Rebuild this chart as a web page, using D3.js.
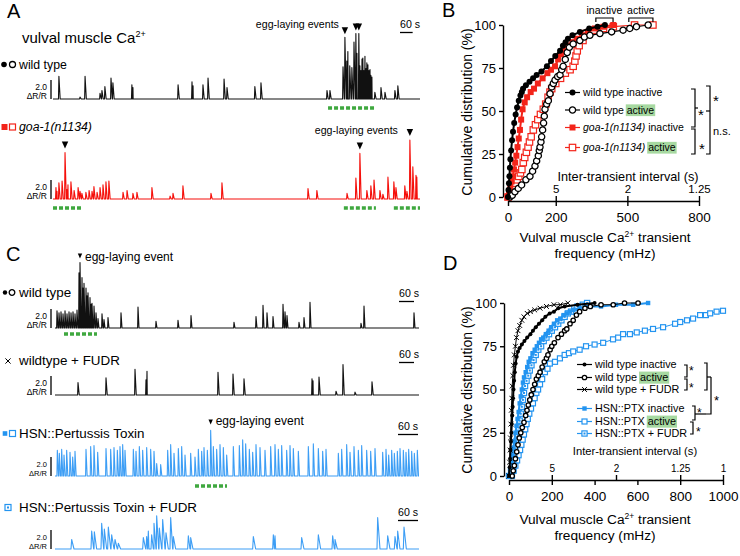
<!DOCTYPE html>
<html>
<head>
<meta charset="utf-8">
<script src="https://cdn.jsdelivr.net/npm/d3@7/dist/d3.min.js"></script>
<style>
  body { margin: 0; background: #fff; }
  svg text { font-family: "Liberation Sans", Arial, Helvetica, sans-serif; fill: #000; }
</style>
</head>
<body>
<svg id="fig" width="740" height="556"></svg>
<script>
// ---------- A / C : Ca2+ traces, each spike = [time (s), peak dR/R] ----------
var wtSpikes = [[28,2.4],[128,0.2],[152,2.4],[223,0.6],[232,0.9],[246,1.3],[275,2.2],[284,1.7],[374,1.5],[379,1.2],
  [593,1.5],[659,1.8],[664,1.4],[711,1.5],[735,2.2],[811,2.1],[825,1.2],[957,1.3],[986,1.7],[1299,0.9],[1313,0.9],
  [1375,3.4],[1384,6.5],[1393,4.0],[1398,5.0],[1407,3.5],[1417,3.3],[1427,6.0],[1436,6.9],[1441,4.8],[1450,6.9],
  [1455,3.5],[1460,3.0],[1465,4.2],[1469,4.3],[1474,3.0],[1479,4.5],[1484,3.2],[1488,3.8],[1493,3.6],[1498,3.0],
  [1503,3.1],[1507,2.5],[1512,2.3],[1526,0.7],[1555,1.2],[1574,0.7],[1621,0.9],[1635,1.4]];
var wtEggs = [1384, 1436, 1450];
var wtActive = [[1304, 1522]];

var goaSpikes = [[14,1.2],[19,0.8],[28,1.7],[43,1.9],[57,4.9],[66,1.0],[71,1.5],[85,1.8],[100,0.9],[119,1.2],
  [128,0.8],[137,0.6],[156,0.7],[171,0.9],[185,0.8],[194,1.3],[209,0.7],[223,1.2],[237,1.5],[251,1.8],[265,1.9],
  [332,0.7],[351,0.9],[379,0.6],[398,0.7],[469,1.2],[555,0.3],[569,0.6],[616,1.4],[749,0.6],[801,1.7],[1209,1.1],
  [1251,0.9],[1394,0.6],[1436,2.2],[1455,4.8],[1488,0.9],[1507,1.4],[1522,2.0],[1550,0.9],[1564,0.5],[1588,2.3],
  [1616,1.8],[1626,1.2],[1668,1.4],[1678,0.8],[1692,6.2],[1706,3.4],[1721,2.5],[1725,2.3]];
var goaEggs = [57, 1455, 1692];
var goaActive = [[0, 133], [1379, 1531], [1616, 1740]];

var cWtSpikes = [[8,1.8],[16,1.6],[24,1.7],[32,1.5],[40,1.8],[48,1.5],[56,1.7],[64,1.6],[72,1.7],[80,1.5],[88,1.9],
  [96,5.8],[100,6.9],[108,5.3],[112,4.2],[116,4.7],[124,4.2],[128,3.4],[132,3.7],[140,3.2],[144,2.5],[148,2.6],
  [156,2.3],[164,1.6],[172,1.0],[188,1.5],[196,0.9],[212,1.1],[264,1.6],[332,2.2],[404,0.7],[492,0.8],[544,1.3],
  [716,0.6],[804,1.2],[832,2.4],[848,1.6],[872,1.2],[912,2.5],[920,1.7],[928,1.3],[976,0.6],[996,1.1],[1020,2.7],
  [1224,0.5],[1236,2.3],[1436,1.6]];
var cWtEggs = [100];
var cWtActive = [[36, 168]];

var cFudrSpikes = [[92,1.3],[204,1.8],[320,2.7],[364,1.6],[368,2.5],[652,2.4],[712,2.2],[756,1.7],[1028,1.7],
  [1032,1.5],[1056,1.9],[1124,0.4],[1152,3.2],[1200,0.3],[1268,1.4]];

var ptxSpikes = [[7,2.7],[13,2.4],[20,2.8],[27,2.2],[35,2.7],[45,2.5],[53,2.0],[60,2.6],
  [93,2.8],[107,3.1],[117,3.2],[128,2.5],
  [153,2.9],[167,2.8],[177,3.0],[187,2.7],[195,3.1],[203,3.3],[210,2.7],
  [235,2.8],[243,2.6],[253,3.1],[263,2.7],[275,3.0],[287,2.8],[297,2.6],[305,1.3],[317,1.2],
  [338,2.7],[347,3.3],[357,2.4],[370,2.9],[380,3.1],[390,2.2],
  [407,2.4],[420,2.0],[430,2.8],[440,2.6],[447,3.0],[457,2.7],[467,4.8],[475,3.1],[485,2.8],[495,3.3],[505,3.0],[515,2.2],[535,3.1],
  [553,3.2],[563,3.8],[572,3.4],[583,2.8],[593,2.5],[603,3.3],[615,3.0],[630,2.7],
  [647,3.1],[660,3.3],[670,2.8],[680,3.2],[695,2.7],[705,3.2],[715,2.9],[730,2.6],
  [760,3.1],[775,3.4],[790,2.9],[803,2.6],[813,2.8],
  [850,2.4],[860,2.8],[875,3.3],[885,2.5],[897,3.1],[910,2.7],[920,3.2],[935,2.7],[947,2.6],[960,2.9],
  [983,2.5],[993,2.8],[1001,2.2],[1010,2.7],[1018,2.4],[1027,2.6],[1035,2.9],[1045,2.7],[1053,2.5],[1061,2.8],
  [1070,2.6],[1078,2.4],[1087,2.7]];
var ptxEggs = [467];
var ptxActive = [[420, 516]];

var ptxFudrSpikes = [[50,1.0],[110,1.9],[118,1.8],[140,2.7],[148,2.1],[160,2.3],[170,1.5],[180,1.0],[190,0.6],
  [265,1.2],[275,1.3],[280,1.9],[290,1.5],[297,2.7],[305,3.5],[313,2.2],[323,3.1],[333,1.7],[347,3.3],[355,1.3],
  [400,1.4],[407,1.2],[595,1.3],[655,1.5],[660,1.4],[740,1.2],[790,1.5],[833,1.4],[840,1.0],[968,3.3],[998,1.4],
  [1020,1.3],[1028,1.9],[1047,2.3]];

// ---------- B : cumulative distributions, [frequency (mHz), %] ----------
var bWtInactive = [[0,0],[2,4],[4,8],[6,12],[8,17],[10,22],[13,27],[17,33],[21,38],[26,43],[32,48],[38,52],[45,56],
  [52,59],[58,61],[63,63],[75,65],[90,67],[105,69],[120,71],[140,73],[163,76],[180,79],[198,82],[218,85],[230,88],
  [241,90],[251,92],[270,94],[301,96],[340,98],[375,99],[406,100]];
var bWtActive = [[8,0],[18,1],[29,3],[43,5],[57,7],[75,10],[92,12],[103,15],[113,18],[120,21],[127,24],[131,27],
  [134,29],[138,32],[141,35],[145,39],[149,43],[152,47],[155,51],[162,54],[169,56],[176,60],[183,64],[190,66],
  [197,68],[208,70],[218,71],[225,74],[231,76],[240,80],[248,84],[257,87],[273,89],[301,91],[320,93],[343,94],
  [385,95],[434,96],[482,97],[510,98],[538,99],[587,100]];
var bGoaInactive = [[0,0],[5,3],[10,6],[15,9],[20,12],[25,16],[30,20],[35,24],[40,29],[45,34],[50,39],[55,45],
  [61,51],[70,55],[80,58],[95,61],[109,63],[125,66],[145,69],[165,72],[180,74],[197,76],[210,80],[222,83],[231,85],
  [250,88],[270,90],[287,92],[310,94],[335,96],[364,98],[400,99],[441,100]];
var bGoaActive = [[0,0],[8,2],[15,4],[23,6],[30,8],[38,10],[45,12],[52,14],[58,16],[64,20],[70,23],[77,26],[84,29],
  [90,32],[97,35],[106,39],[115,42],[125,45],[136,48],[148,51],[158,54],[168,58],[176,61],[183,63],[200,66],
  [220,69],[240,72],[260,74],[273,76],[280,79],[285,82],[290,85],[298,88],[314,91],[327,95],[360,97],[400,98],
  [441,99],[530,100],[607,100]];
var bFreqTicks = [0, 200, 500, 800];
var bIntervalTicks = [5, 2, 1.25];
var bTopBrackets = [["inactive", 368, 440], ["active", 506, 607]];

// ---------- D : cumulative distributions, [frequency (mHz), %] ----------
var dWtInactive = [[0,0],[3,5],[5,10],[7,15],[9,20],[11,25],[13,30],[15,35],[17,40],[19,45],[21,50],[24,55],[27,60],
  [31,65],[36,69],[42,72],[50,74],[60,76],[72,78],[85,80],[100,82],[112,84],[125,86],[140,88],[155,90],[170,92],
  [190,94],[210,95],[230,97],[260,98],[320,99],[400,100]];
var dWtActive = [[15,0],[20,3],[25,6],[30,10],[36,14],[42,18],[48,22],[55,25],[62,28],[70,31],[78,35],[84,38],
  [90,41],[97,44],[104,47],[112,50],[120,53],[128,56],[137,58],[145,60],[155,63],[165,66],[175,68],[182,70],
  [192,73],[200,75],[212,77],[229,80],[245,82],[260,84],[270,85],[285,88],[300,90],[315,93],[330,95],[355,97],
  [380,98],[430,99],[487,99],[540,100],[603,100]];
var dWtFudr = [[0,0],[3,8],[5,15],[7,22],[9,30],[11,38],[13,45],[15,52],[18,58],[21,64],[25,70],[30,75],[35,80],
  [42,84],[50,87],[60,90],[70,92],[85,94],[100,95],[120,96],[145,97],[175,98],[210,99],[240,99],[275,100]];
var dPtxInactive = [[0,0],[5,4],[10,8],[15,12],[20,16],[25,20],[30,25],[35,29],[40,33],[45,37],[50,42],[55,46],
  [60,50],[65,54],[70,57],[78,60],[85,63],[92,66],[100,68],[110,71],[120,73],[130,75],[140,77],[150,79],[160,80],
  [172,82],[185,84],[197,86],[210,88],[225,90],[240,91],[255,93],[270,94],[285,95],[300,96],[330,97],[380,98],
  [430,98],[500,99],[580,99],[650,100]];
var dPtxActive = [[14,0],[22,3],[30,6],[38,9],[45,12],[52,15],[58,18],[64,21],[70,24],[76,27],[82,30],[88,33],
  [95,36],[103,39],[112,42],[120,45],[128,48],[136,50],[145,53],[155,56],[168,60],[180,62],[191,65],[215,66],
  [238,68],[260,70],[280,71],[300,72],[330,73],[360,75],[400,76],[440,77],[486,79],[510,80],[533,82],[565,82],
  [597,83],[635,84],[673,85],[720,86],[776,88],[800,89],[832,90],[860,91],[893,93],[920,93],[940,94],[970,95],
  [1000,95.5]];
var dPtxFudr = [[0,0],[10,3],[15,5],[20,8],[25,12],[30,16],[35,20],[40,24],[45,28],[50,32],[55,36],[60,40],[65,44],
  [70,48],[75,52],[82,55],[90,58],[97,61],[105,64],[115,67],[125,70],[137,73],[150,75],[162,78],[175,80],[187,82],
  [200,84],[215,86],[230,88],[245,90],[260,92],[275,94],[290,95],[305,97],[320,98],[345,99],[365,100]];
var dFreqTicks = [0, 200, 400, 600, 800, 1000];
var dIntervalTicks = [5, 2, 1.25, 1];

var pctTicks = [0, 25, 50, 75, 100];

// ------------------------------------------------------------------
var svg = d3.select('#fig');
var RED = '#f3241a', BLUE = '#2394f0', BLUE_TR = '#3d9ef5', GREEN = '#3fa83f', HL = '#a7d9a1';
var UNIT = 9.5;   // px per 1.0 dR/R

function label(x, y, size, str, anchor) {
  return svg.append('text').attr('x', x).attr('y', y).attr('font-size', size)
    .attr('text-anchor', anchor || 'start').text(str);
}

// marker glyphs
function mark(g, type, pts, color, r) {
  var gs = g.append('g').selectAll('g').data(pts).join('g')
    .attr('transform', function (d) { return 'translate(' + d[0] + ',' + d[1] + ')'; });
  if (type == 'dot') {
    gs.append('circle').attr('r', r).attr('fill', color);
  } else if (type == 'ring') {
    gs.append('circle').attr('r', r).attr('fill', '#fff').attr('stroke', color).attr('stroke-width', 1.3);
  } else if (type == 'sq') {
    gs.append('rect').attr('x', -r).attr('y', -r).attr('width', 2 * r).attr('height', 2 * r).attr('fill', color);
  } else if (type == 'osq' || type == 'dsq') {
    gs.append('rect').attr('x', -r).attr('y', -r).attr('width', 2 * r).attr('height', 2 * r)
      .attr('fill', '#fff').attr('stroke', color).attr('stroke-width', 1.2);
    if (type == 'dsq') gs.append('rect').attr('x', -1).attr('y', -1).attr('width', 2).attr('height', 2).attr('fill', color);
  } else if (type == 'x') {
    gs.append('path').attr('d', 'M' + (-r) + ',' + (-r) + 'L' + r + ',' + r + 'M' + (-r) + ',' + r + 'L' + r + ',' + (-r))
      .attr('stroke', color).attr('stroke-width', 1);
  }
}

// one Ca2+ trace
function drawTrace(c) {
  var x = d3.scaleLinear().domain([0, c.dur]).range([c.x0, c.x1]);
  var y = d3.scaleLinear().domain([0, 1]).range([c.base, c.base - UNIT]);
  var pts = [[0, 0], [c.dur, 0]];
  c.spikes.forEach(function (s) {
    pts.push([Math.max(0, s[0] - c.rise), 0], [s[0], s[1]], [Math.min(c.dur, s[0] + c.fall), 0]);
  });
  pts.sort(function (a, b) { return a[0] - b[0]; });
  svg.append('path')
    .attr('d', d3.line().x(function (d) { return x(d[0]); }).y(function (d) { return y(d[1]); })(pts))
    .attr('fill', 'none').attr('stroke', c.color).attr('stroke-width', 1.1).attr('stroke-linejoin', 'round');

  // 2.0 dR/R bar
  svg.append('line').attr('x1', 51).attr('x2', 51).attr('y1', y(0)).attr('y2', y(2))
    .attr('stroke', '#000').attr('stroke-width', 1.3);
  label(47, c.base - 9.5, c.barFont, '2.0', 'end');
  label(47, c.base, c.barFont, '\u0394R/R', 'end');

  // 60 s bar
  if (c.sixty) {
    label(c.sixty[0], c.sixty[1], c.sixtyFont, '60 s');
    svg.append('line').attr('x1', c.sixty[0]).attr('x2', c.sixty[0] + x(60) - x(0))
      .attr('y1', c.sixty[1] + 4.5).attr('y2', c.sixty[1] + 4.5).attr('stroke', '#000').attr('stroke-width', 1.3);
  }

  // active phases
  (c.active || []).forEach(function (a) {
    svg.append('line').attr('x1', x(a[0])).attr('x2', x(a[1]))
      .attr('y1', c.base + c.dashOff).attr('y2', c.base + c.dashOff)
      .attr('stroke', GREEN).attr('stroke-width', 3.5).attr('stroke-dasharray', '4,2');
  });

  // egg-laying arrowheads
  var tips = [];
  (c.eggs || []).forEach(function (t) {
    var amp = c.spikes.filter(function (s) { return s[0] === t; })[0][1];
    var cx = x(t), bot = y(amp) - c.gap, w = c.tri[0], h = c.tri[1];
    svg.append('path').attr('d', 'M' + (cx - w) + ',' + (bot - h) + 'L' + (cx + w) + ',' + (bot - h) + 'L' + cx + ',' + bot + 'Z')
      .attr('fill', '#000');
    tips.push([cx, bot]);
  });
  return { x: x, y: y, tips: tips };
}

// ----------------- panel A -----------------
label(7, 18, 20, 'A');
var vm = svg.append('text').attr('x', 22).attr('y', 43).attr('font-size', 15);
vm.append('tspan').text('vulval muscle Ca');
vm.append('tspan').attr('font-size', 9).attr('dy', -6).text('2+');

mark(svg, 'dot', [[4, 64.5]], '#000', 2.8);
mark(svg, 'ring', [[12.5, 64.5]], '#000', 3);
label(19, 68.5, 12.3, 'wild type');

var a1 = drawTrace({ x0: 53, x1: 420, dur: 1740, base: 99, color: '#111', spikes: wtSpikes, rise: 2, fall: 6,
  eggs: wtEggs, active: wtActive, dashOff: 9, gap: 3, tri: [3.2, 7], sixty: [400, 28], sixtyFont: 10.6, barFont: 8.5 });
label(a1.tips[0][0] - 6, 28, 10.6, 'egg-laying events', 'end');

mark(svg, 'sq', [[4.5, 127]], RED, 3);
mark(svg, 'osq', [[12.5, 127]], RED, 3);
label(19, 131, 12.3, 'goa-1(n1134)').attr('font-style', 'italic');

var a2 = drawTrace({ x0: 53, x1: 420, dur: 1740, base: 199, color: '#f50f0a', spikes: goaSpikes, rise: 2, fall: 6,
  eggs: goaEggs, active: goaActive, dashOff: 9, gap: 4, tri: [3.2, 7], barFont: 8.5 });
label(a2.tips[2][0] - 12, 134, 10.6, 'egg-laying events', 'end');

// ----------------- panel C -----------------
label(6, 261, 20, 'C');

mark(svg, 'dot', [[5, 292.5]], '#000', 2.2);
mark(svg, 'ring', [[12, 292.5]], '#000', 2.8);
label(19, 297, 13.4, 'wild type');
var c1 = drawTrace({ x0: 55, x1: 419, dur: 1456, base: 328, color: '#111', spikes: cWtSpikes, rise: 1.5, fall: 4,
  eggs: cWtEggs, active: cWtActive, dashOff: 6, gap: 4, tri: [2.2, 5], sixty: [399, 297], sixtyFont: 10.6, barFont: 8.5 });
label(c1.tips[0][0] + 5, c1.tips[0][1] + 3, 12, 'egg-laying event');

mark(svg, 'x', [[8, 361]], '#000', 2.6);
label(19, 365, 13.4, 'wildtype + FUDR');
drawTrace({ x0: 55, x1: 419, dur: 1456, base: 395, color: '#111', spikes: cFudrSpikes, rise: 1.5, fall: 5,
  sixty: [399, 358], sixtyFont: 10.6, barFont: 8.5 });

mark(svg, 'sq', [[5, 433.5]], BLUE, 2.3);
mark(svg, 'osq', [[12.5, 433.5]], BLUE, 3);
label(19, 438, 13.4, 'HSN::Pertussis Toxin');
var c3 = drawTrace({ x0: 55, x1: 419, dur: 1092, base: 476, color: BLUE_TR, spikes: ptxSpikes, rise: 1.2, fall: 3.5,
  eggs: ptxEggs, active: ptxActive, dashOff: 10, gap: 6, tri: [2.2, 5], sixty: [398, 430], sixtyFont: 10.6, barFont: 7.5 });
label(c3.tips[0][0] + 5, c3.tips[0][1] + 1, 12, 'egg-laying event');

mark(svg, 'dsq', [[8, 507.5]], BLUE, 3);
label(19, 512, 13.4, 'HSN::Pertussis Toxin + FUDR');
drawTrace({ x0: 55, x1: 419, dur: 1092, base: 549, color: BLUE_TR, spikes: ptxFudrSpikes, rise: 2, fall: 7,
  sixty: [398, 516], sixtyFont: 10.6, barFont: 7.5 });

// ----------------- CDF panels -----------------
function legendRow(g, x, y, parts, size) {
  var hl = g.append('g');
  var t = g.append('text').attr('x', x).attr('y', y).attr('font-size', size).style('white-space', 'pre');
  parts.forEach(function (p) {
    var ts = t.append('tspan').text(p[0]);
    if (p[1] == 'i') ts.attr('font-style', 'italic');
  });
  var node = t.node(), idx = 0;
  parts.forEach(function (p) {
    if (p[1] == 'h') {
      var a = node.getStartPositionOfChar(idx).x, b = node.getEndPositionOfChar(idx + p[0].length - 1).x;
      hl.append('rect').attr('x', a - 1).attr('y', y - size * 0.9).attr('width', b - a + 2)
        .attr('height', size * 1.12).attr('fill', HL);
    }
    idx += p[0].length;
  });
}

function bracket(x, y1, y2, w) {
  svg.append('path').attr('d', 'M' + (x - w) + ',' + y1 + 'H' + x + 'V' + y2 + 'H' + (x - w))
    .attr('fill', 'none').attr('stroke', '#000').attr('stroke-width', 1.2);
}
function tick(x1, x2, y) {
  svg.append('line').attr('x1', x1).attr('x2', x2).attr('y1', y).attr('y2', y).attr('stroke', '#000').attr('stroke-width', 1.2);
}
function star(x, cy, size) { size = size || 15; label(x, cy + size * 0.57, size, '*'); }

function cdfPanel(p) {
  var x = d3.scaleLinear().domain([0, p.xMax]).range(p.xr);
  var y = d3.scaleLinear().domain([0, 100]).range(p.yr);
  var gy = svg.append('g').attr('transform', 'translate(' + p.yAxisX + ',0)')
    .call(d3.axisLeft(y).tickValues(pctTicks).tickSize(4).tickSizeOuter(0).tickPadding(3));
  var gx = svg.append('g').attr('transform', 'translate(0,' + p.xAxisY + ')')
    .call(d3.axisBottom(x).tickValues(p.freqTicks).tickFormat(d3.format('d')).tickSize(5).tickSizeOuter(0).tickPadding(6));
  var gt = svg.append('g').attr('transform', 'translate(0,' + p.xAxisY + ')')
    .call(d3.axisTop(x).tickValues(p.intervalTicks.map(function (s) { return 1000 / s; }))
      .tickFormat(function (d) { return String(+(1000 / d).toFixed(2)); }).tickSize(5).tickPadding(3));
  gt.select('.domain').remove();
  [gy, gx, gt].forEach(function (g) {
    g.selectAll('path, line').attr('stroke', '#000').attr('stroke-width', 1.4);
  });
  gy.selectAll('text').attr('font-size', 13);
  gx.selectAll('text').attr('font-size', 13.5);
  gt.selectAll('text').attr('font-size', p.topFont);

  label(p.intervalTitle[0], p.intervalTitle[1], p.topTitleFont, 'Inter-transient interval (s)', 'middle');
  svg.append('text').attr('transform', 'translate(472,' + p.yTitleY + ') rotate(-90)')
    .attr('text-anchor', 'middle').attr('font-size', 14).text('Cumulative distribution (%)');
  var xt = svg.append('text').attr('x', 605).attr('y', p.xTitleY).attr('font-size', 13.7).attr('text-anchor', 'middle');
  xt.append('tspan').text('Vulval muscle Ca');
  xt.append('tspan').attr('font-size', 8.5).attr('dy', -5).text('2+');
  xt.append('tspan').attr('dy', 5).text(' transient');
  label(605, p.xTitleY + 16, 13.7, 'frequency (mHz)', 'middle');

  var g = svg.append('g');
  var line = d3.line().x(function (d) { return x(d[0]); }).y(function (d) { return y(d[1]); });
  p.series.forEach(function (s) {
    g.append('path').attr('d', line(s.data)).attr('fill', 'none').attr('stroke', s.color).attr('stroke-width', s.lw);
    mark(g, s.mark, s.data.map(function (d) { return [x(d[0]), y(d[1])]; }), s.color, s.r);
  });

  // legend
  var lg = svg.append('g');
  p.legend.forEach(function (row, i) {
    var s = p.series.filter(function (q) { return q.key == row.key; })[0];
    var cy = p.legendY[i];
    lg.append('line').attr('x1', p.legendX[0]).attr('x2', p.legendX[1]).attr('y1', cy).attr('y2', cy)
      .attr('stroke', s.color).attr('stroke-width', 1.2);
    mark(lg, s.mark, [[(p.legendX[0] + p.legendX[1]) / 2, cy]], s.color, s.r);
    legendRow(lg, p.legendX[1] + 3, cy + 3.8, row.parts, p.legendFont);
  });
  return { x: x, y: y };
}

// ----------------- panel B -----------------
label(442, 17, 20, 'B');
var B = cdfPanel({
  xMax: 800, xr: [508, 699], yr: [197, 25], yAxisX: 503, xAxisY: 201,
  freqTicks: bFreqTicks, intervalTicks: bIntervalTicks, topFont: 11.5,
  intervalTitle: [628, 181], topTitleFont: 12.7, yTitleY: 112, xTitleY: 242,
  series: [
    { key: 'ga', data: bGoaActive, color: RED, mark: 'osq', r: 3.2, lw: 1.2 },
    { key: 'gi', data: bGoaInactive, color: RED, mark: 'sq', r: 3, lw: 2 },
    { key: 'wa', data: bWtActive, color: '#000', mark: 'ring', r: 3.1, lw: 1.2 },
    { key: 'wi', data: bWtInactive, color: '#000', mark: 'dot', r: 3, lw: 2 }
  ],
  legend: [
    { key: 'wi', parts: [['wild type inactive', '']] },
    { key: 'wa', parts: [['wild type ', ''], ['active', 'h']] },
    { key: 'gi', parts: [['goa-1(n1134)', 'i'], [' inactive', '']] },
    { key: 'ga', parts: [['goa-1(n1134)', 'i'], [' ', ''], ['active', 'h']] }
  ],
  legendY: [92.5, 110, 127.5, 147.5], legendX: [565, 580], legendFont: 10.5
});
bTopBrackets.forEach(function (b) {
  var x1 = B.x(b[1]), x2 = B.x(b[2]);
  svg.append('path').attr('d', 'M' + x1 + ',22V18H' + x2 + 'V22').attr('fill', 'none')
    .attr('stroke', '#000').attr('stroke-width', 1.2);
  label((x1 + x2) / 2, 14, 10.6, b[0], 'middle');
});
bracket(695, 89, 127, 4); tick(695, 698, 108); star(698, 111);
bracket(695, 129, 154, 4); star(699, 145);
bracket(710, 86, 154, 4); tick(706, 710, 111); star(713, 97);
label(713, 135, 11, 'n.s.');

// ----------------- panel D -----------------
label(443, 270, 20, 'D');
cdfPanel({
  xMax: 1000, xr: [509, 723], yr: [476, 303], yAxisX: 504, xAxisY: 480,
  freqTicks: dFreqTicks, intervalTicks: dIntervalTicks, topFont: 10,
  intervalTitle: [635, 455], topTitleFont: 11.2, yTitleY: 390, xTitleY: 524,
  series: [
    { key: 'pa', data: dPtxActive, color: BLUE, mark: 'osq', r: 2.5, lw: 1 },
    { key: 'pf', data: dPtxFudr, color: BLUE, mark: 'dsq', r: 2.6, lw: 1.5 },
    { key: 'pi', data: dPtxInactive, color: BLUE, mark: 'sq', r: 2.2, lw: 2 },
    { key: 'wa', data: dWtActive, color: '#000', mark: 'ring', r: 2.2, lw: 1 },
    { key: 'wf', data: dWtFudr, color: '#000', mark: 'x', r: 2.4, lw: 1 },
    { key: 'wi', data: dWtInactive, color: '#000', mark: 'dot', r: 2, lw: 2 }
  ],
  legend: [
    { key: 'wi', parts: [['wild type inactive', '']] },
    { key: 'wa', parts: [['wild type ', ''], ['active', 'h']] },
    { key: 'wf', parts: [['wild type + FUDR', '']] },
    { key: 'pi', parts: [['HSN::PTX inactive', '']] },
    { key: 'pa', parts: [['HSN::PTX ', ''], ['active', 'h']] },
    { key: 'pf', parts: [['HSN::PTX + FUDR', '']] }
  ],
  legendY: [364.5, 377.5, 389.5, 408.5, 421.5, 433.5], legendX: [577, 592], legendFont: 10.8
});
bracket(687, 365, 377, 3); star(689, 368, 12);
bracket(687, 379, 390, 3); star(689, 385, 12);
bracket(707, 363, 390, 3); tick(707, 711, 377);
svg.append('path').attr('d', 'M711,377V414H706').attr('fill', 'none').attr('stroke', '#000').attr('stroke-width', 1.2);
star(714, 398, 13);
bracket(695, 406, 420, 3); tick(695, 706, 414); star(697, 410, 12);
bracket(693, 422, 434, 3); star(696, 429, 12);
</script>
</body>
</html>
